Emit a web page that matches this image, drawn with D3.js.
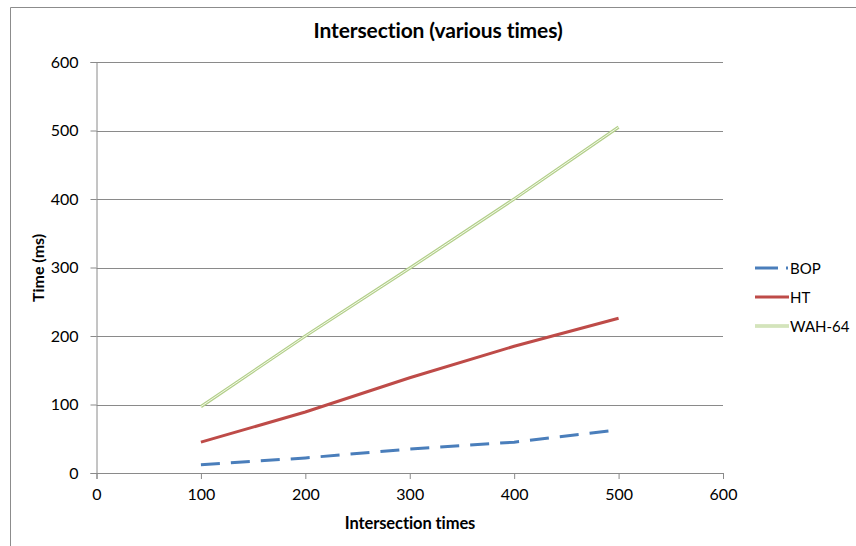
<!DOCTYPE html>
<html><head><meta charset="utf-8">
<script src="https://cdn.jsdelivr.net/npm/d3@7"></script>
<style>body{margin:0;background:#fff;} svg{display:block;font-family:Lato,"Open Sans",sans-serif;}</style>
</head><body>
<svg id="c" width="856" height="546"></svg>
<script>
const xValues = [100, 200, 300, 400, 500];
const bop = [12, 22, 35, 45, 63];
const ht = [45, 89, 139, 185, 226];
const wah64 = [97, 200, 299, 400, 505];
const xTicks = [0, 100, 200, 300, 400, 500, 600];
const yTicks = [0, 100, 200, 300, 400, 500, 600];
const seriesNames = ["BOP", "HT", "WAH-64"];

(function(){
const svg = d3.select("#c");
const pL = 96.5, pR = 723, pT = 62, pB = 473;
const x = d3.scaleLinear().domain([0, 600]).range([pL, pR]);
const y = d3.scaleLinear().domain([0, 600]).range([pB, pT]);

svg.append("line").attr("x1",10.5).attr("x2",856).attr("y1",7.5).attr("y2",7.5).attr("stroke","#8c8c8c").attr("stroke-width",1);
svg.append("line").attr("x1",10.5).attr("x2",10.5).attr("y1",7.5).attr("y2",546).attr("stroke","#8c8c8c").attr("stroke-width",1);

svg.append("g").selectAll("line").data(yTicks.filter(d=>d>0)).join("line")
  .attr("x1", pL).attr("x2", pR)
  .attr("y1", d=>Math.round(y(d))+0.5).attr("y2", d=>Math.round(y(d))+0.5)
  .attr("stroke","#8a8a8a").attr("stroke-width",1);

const yAxis = svg.append("g").attr("transform",`translate(${pL},0)`)
  .call(d3.axisLeft(y).tickValues(yTicks).tickSize(6).tickPadding(12).tickFormat(d3.format("d")));
yAxis.select(".domain").attr("stroke","#8a8a8a");
yAxis.selectAll(".tick line").attr("stroke","#8a8a8a");
yAxis.selectAll("text").attr("font-size",16).attr("fill","#000").attr("font-family","Lato");

const xAxis = svg.append("g").attr("transform",`translate(0,${pB})`)
  .call(d3.axisBottom(x).tickValues(xTicks).tickSize(6).tickPadding(10).tickFormat(d3.format("d")));
xAxis.select(".domain").attr("stroke","#8a8a8a");
xAxis.selectAll(".tick line").attr("stroke","#8a8a8a");
xAxis.selectAll("text").attr("font-size",16).attr("fill","#000").attr("font-family","Lato");

const line = d3.line().x((d,i)=>x(xValues[i])).y(d=>y(d));

svg.append("path").datum(wah64).attr("d", line).attr("fill","none").attr("stroke","#b3cf8a").attr("stroke-width",3.2);
svg.append("path").datum(wah64).attr("d", line).attr("fill","none").attr("stroke","#f4f9ec").attr("stroke-width",1);
svg.append("path").datum(ht).attr("d", line).attr("fill","none").attr("stroke","#be4b48").attr("stroke-width",3);
svg.append("path").datum(bop).attr("d", line).attr("fill","none").attr("stroke","#4a7ebb").attr("stroke-width",3).attr("stroke-dasharray","19,11");

svg.append("text").attr("x",438).attr("y",38).attr("text-anchor","middle")
  .attr("font-size",21).attr("font-weight","bold").attr("letter-spacing",-0.1).text("Intersection (various times)");
svg.append("text").attr("x",410).attr("y",529).attr("text-anchor","middle")
  .attr("font-size",16.5).attr("font-weight","bold").attr("letter-spacing",-0.1).text("Intersection times");
svg.append("text").attr("transform","translate(44,268) rotate(-90)").attr("text-anchor","middle")
  .attr("font-size",16).attr("font-weight","bold").text("Time (ms)");

const lg = svg.append("g");
const ly = [268, 297, 326];
lg.append("line").attr("x1",755).attr("x2",778).attr("y1",ly[0]).attr("y2",ly[0]).attr("stroke","#4a7ebb").attr("stroke-width",3);
lg.append("line").attr("x1",786).attr("x2",788).attr("y1",ly[0]).attr("y2",ly[0]).attr("stroke","#4a7ebb").attr("stroke-width",3);
lg.append("line").attr("x1",755).attr("x2",789).attr("y1",ly[1]).attr("y2",ly[1]).attr("stroke","#be4b48").attr("stroke-width",3);
lg.append("line").attr("x1",755).attr("x2",789).attr("y1",ly[2]).attr("y2",ly[2]).attr("stroke","#b3cf8a").attr("stroke-width",3.2);
lg.append("line").attr("x1",755).attr("x2",789).attr("y1",ly[2]).attr("y2",ly[2]).attr("stroke","#f4f9ec").attr("stroke-width",1);
lg.selectAll("text.l").data(seriesNames).join("text").attr("class","l")
  .attr("x",790).attr("y",(d,i)=>ly[i]+5.5).attr("font-size",15).text(d=>d);
})();
</script>
</body></html>
